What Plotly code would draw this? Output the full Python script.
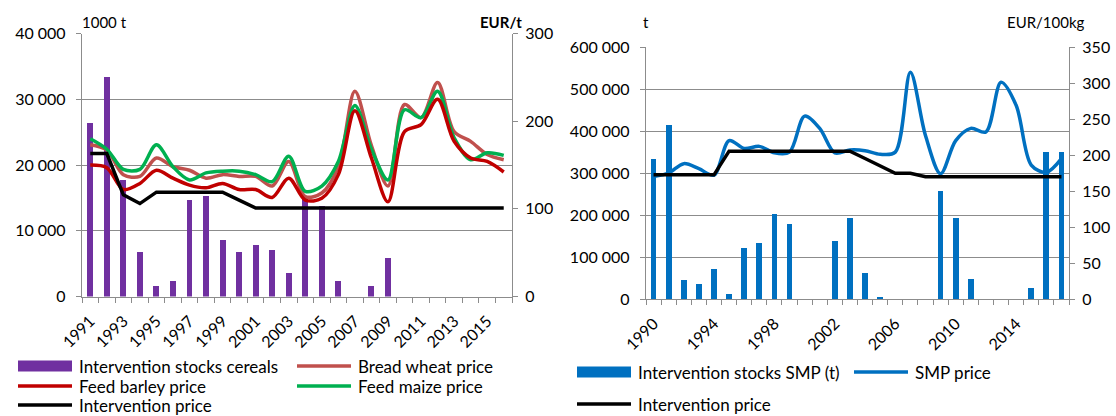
import plotly.graph_objects as go

W, H = 1116, 416

# ---- left chart: cereals (1000 t / EUR/t) ----
years_cereals = list(range(1991, 2017))
stocks_cereals = [26500, 33400, 17800, 6900, 1600, 2400, 14700, 15300, 8700, 6800,
                  7900, 7200, 3600, 15000, 13900, 2400, 0, 1600, 6000, 0,
                  0, 0, 0, 0, 0, 0]
bread_wheat = [173, 167, 139, 137, 158, 148, 144, 135, 139, 137,
               137, 126, 154, 114, 118, 148, 234, 172, 126, 219,
               204, 244, 188, 177, 162, 156]
feed_barley = [150, 147, 122, 129, 144, 135, 127, 124, 129, 122,
               122, 113, 135, 110, 112, 139, 212, 158, 108, 188,
               196, 225, 177, 158, 154, 142]
feed_maize = [180, 168, 145, 145, 173, 148, 133, 141, 143, 143,
              139, 131, 160, 120, 126, 154, 218, 168, 133, 213,
              204, 234, 181, 156, 164, 161]
interv_cereals = [163, 163, 116, 106, 119, 119, 119, 119, 119, 110,
                  101, 101, 101, 101, 101, 101, 101, 101, 101, 101,
                  101, 101, 101, 101, 101, 101]
ticks_cereals = list(range(1991, 2016, 2))

# ---- right chart: SMP (t / EUR/100kg) ----
years_smp = list(range(1990, 2018))
stocks_smp = [333000, 414000, 45000, 35000, 71000, 12000, 122000, 133000, 202000, 179000,
              0, 0, 138000, 193000, 63000, 5500, 0, 0, 0, 257000,
              193000, 48000, 0, 0, 0, 27000, 350000, 350000]
smp_price = [170, 175, 188, 181, 172, 220, 209, 212, 203, 204,
             254, 237, 203, 207, 206, 201, 204, 315, 227, 174,
             220, 237, 232, 301, 269, 186, 176, 195]
interv_smp = [172.4, 172.4, 172.4, 172.4, 172.4, 205.3, 205.3, 205.3, 205.3, 205.3,
              205.3, 205.3, 205.3, 205.3, 195.2, 185.5, 174.7, 174.7, 169.8, 169.8,
              169.8, 169.8, 169.8, 169.8, 169.8, 169.8, 169.8, 169.8]
ticks_smp = list(range(1990, 2015, 4))

FONT = "Lato"
GRID = "#8c8c8c"


def px_x(x):
    return x / W


def px_y(y):
    return 1 - y / H


fig = go.Figure()

# left chart traces
fig.add_trace(go.Bar(x=years_cereals, y=stocks_cereals, name="Intervention stocks cereals",
                     marker_color="#7030A0", marker_line_width=0, width=0.36,
                     xaxis="x", yaxis="y"))
fig.add_trace(go.Scatter(x=years_cereals, y=bread_wheat, name="Bread wheat price", mode="lines",
                         line=dict(color="#C0504D", width=3.5, shape="spline", smoothing=0.9),
                         xaxis="x", yaxis="y3"))
fig.add_trace(go.Scatter(x=years_cereals, y=feed_maize, name="Feed maize price", mode="lines",
                         line=dict(color="#00B050", width=3.5, shape="spline", smoothing=0.9),
                         xaxis="x", yaxis="y3"))
fig.add_trace(go.Scatter(x=years_cereals, y=feed_barley, name="Feed barley price", mode="lines",
                         line=dict(color="#C00000", width=3.5, shape="spline", smoothing=0.9),
                         xaxis="x", yaxis="y3"))
fig.add_trace(go.Scatter(x=years_cereals, y=interv_cereals, name="Intervention price", mode="lines",
                         line=dict(color="black", width=3.5),
                         xaxis="x", yaxis="y3"))

# right chart traces
fig.add_trace(go.Bar(x=years_smp, y=stocks_smp, name="Intervention stocks SMP (t)",
                     marker_color="#0070C0", marker_line_width=0, width=0.38,
                     xaxis="x2", yaxis="y2"))
fig.add_trace(go.Scatter(x=years_smp, y=smp_price, name="SMP price", mode="lines",
                         line=dict(color="#0070C0", width=3.5, shape="spline", smoothing=0.9),
                         xaxis="x2", yaxis="y4"))
fig.add_trace(go.Scatter(x=years_smp, y=interv_smp, name="Intervention price", mode="lines",
                         line=dict(color="black", width=3.5),
                         xaxis="x2", yaxis="y4"))

tickfont = dict(family=FONT, size=16, color="black")


def x_axis(domain, anchor, rng, tickvals):
    return dict(domain=domain, anchor=anchor, range=rng, automargin=False,
                tickmode="array", tickvals=tickvals, ticktext=[str(v) for v in tickvals],
                tickangle=-45, ticks="", showgrid=False, zeroline=False,
                showline=True, linecolor=GRID, linewidth=1.3, tickfont=tickfont,
                ticklabelstandoff=8,
                minor=dict(tick0=rng[0], dtick=1, ticks="outside", ticklen=5,
                           tickcolor=GRID, tickwidth=1.3, showgrid=False))


def y_axis(domain, anchor, rng, dtick):
    return dict(domain=domain, anchor=anchor, range=rng, dtick=dtick, tickformat=",d",
                automargin=False,
                showgrid=True, gridcolor=GRID, gridwidth=1.3, zeroline=False,
                showline=True, linecolor=GRID, linewidth=1.3,
                ticks="outside", ticklen=5, tickcolor=GRID, tickwidth=1.3,
                tickfont=tickfont, ticklabelstandoff=7)


def y_right(over, anchor, rng, dtick):
    return dict(overlaying=over, anchor=anchor, side="right", range=rng, dtick=dtick,
                automargin=False,
                showgrid=False, zeroline=False, showline=True, linecolor=GRID, linewidth=1.3,
                ticks="outside", ticklen=5, tickcolor=GRID, tickwidth=1.3,
                tickfont=tickfont, ticklabelstandoff=4)


left_x = [px_x(82), px_x(512)]
left_y = [px_y(296.5), px_y(33.5)]
right_x = [px_x(646), px_x(1069)]
right_y = [px_y(299), px_y(47)]

fig.update_layout(
    template="none",
    width=W, height=H,
    margin=dict(l=0, r=0, t=0, b=0, pad=0),
    paper_bgcolor="white", plot_bgcolor="white",
    showlegend=False, bargap=0,
    separators=". ",
    font=dict(family=FONT, size=16, color="black"),
    xaxis=x_axis(left_x, "y", [1990.5, 2016.5], ticks_cereals),
    yaxis=y_axis(left_y, "x", [0, 40000], 10000),
    yaxis3=y_right("y", "x", [0, 300], 100),
    xaxis2=x_axis(right_x, "y2", [1989.5, 2017.5], ticks_smp),
    yaxis2=y_axis(right_y, "x2", [0, 600000], 100000),
    yaxis4=y_right("y2", "x2", [0, 350], 50),
)

annotations = []
shapes = []


def text(x, y, s, anchor="left", bold=False, size=17):
    annotations.append(dict(xref="paper", yref="paper", x=px_x(x), y=px_y(y),
                            text="<b>%s</b>" % s if bold else s, showarrow=False,
                            xanchor=anchor, yanchor="middle",
                            font=dict(family=FONT, size=size, color="black")))


# axis unit labels
text(80, 22, "1000 t", size=15)
text(524, 22, "EUR/t", anchor="right", bold=True, size=15)
text(641, 22, "t", size=15)
text(1087, 22, "EUR/100kg", anchor="right", size=15)


def legend_item(trace, x0, y):
    if trace.type == "bar":
        shapes.append(dict(type="rect", xref="paper", yref="paper",
                           x0=px_x(x0), x1=px_x(x0 + 54), y0=px_y(y + 5.5), y1=px_y(y - 5.5),
                           fillcolor=trace.marker.color, line=dict(width=0)))
    else:
        shapes.append(dict(type="line", xref="paper", yref="paper",
                           x0=px_x(x0), x1=px_x(x0 + 54), y0=px_y(y), y1=px_y(y),
                           line=dict(color=trace.line.color, width=3.5)))
    text(x0 + 59, y, trace.name)


t = fig.data
# left legend (two columns)
legend_item(t[0], 18, 366)
legend_item(t[1], 297, 366)
legend_item(t[3], 18, 386)
legend_item(t[2], 297, 386)
legend_item(t[4], 18, 405)
# right legend
legend_item(t[5], 577, 372)
legend_item(t[6], 854, 372)
legend_item(t[7], 577, 404)

fig.update_layout(annotations=annotations, shapes=shapes)

# drop the default page margin so the figure sits at the window's top-left corner
fig.write_html("out.html", config={"displayModeBar": False},
               post_script="document.body.style.margin='0';document.body.style.overflow='hidden';")
